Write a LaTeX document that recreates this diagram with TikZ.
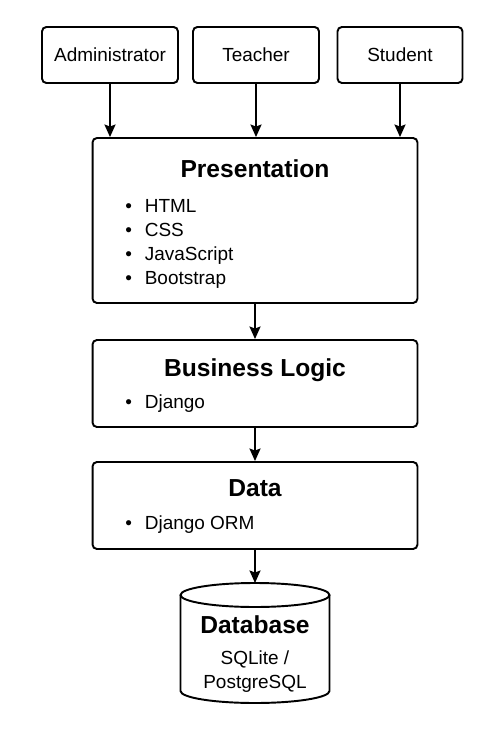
\documentclass[tikz,border=0pt]{standalone}
\usepackage{fontspec}
\setmainfont{Liberation Sans}
\usepackage{tikz}
\usetikzlibrary{arrows.meta}

\begin{document}
\begin{tikzpicture}[x=0.02cm,y=0.02cm,
		box/.style={draw,line width=1.1pt,rounded corners=2.5pt,inner sep=0pt},
		usr/.style={box,minimum height=1.12cm,font=\fontsize{10.8}{13}\selectfont},
		layer/.style={box,minimum width=6.5cm},
		ttl/.style={font=\fontsize{14}{17}\selectfont\bfseries,inner sep=0pt,anchor=base},
		sub/.style={font=\fontsize{10.8}{13}\selectfont,inner sep=0pt,anchor=base},
		itm/.style={font=\fontsize{10.8}{13}\selectfont,inner sep=0pt,anchor=base west,execute at begin node={\makebox[0.39cm][l]{\textbullet}}},
		arr/.style={line width=1.1pt,-{Stealth[length=0.25cm,width=0.22cm,inset=0.04cm]}}]
		\fill[white] (0,0) rectangle (500,-750);
		\useasboundingbox (0,0) rectangle (500,-750);
		% users
		\node[usr,minimum width=2.72cm] (admin) at (110,-55) {Administrator};
		\node[usr,minimum width=2.52cm] (teacher) at (256,-55) {Teacher};
		\node[usr,minimum width=2.5cm] (student) at (400,-55) {Student};
		% layers
		\node[layer,minimum height=3.3cm] (pres) at (255,-220.5) {};
		\node[layer,minimum height=1.74cm] (logic) at (255,-383.5) {};
		\node[layer,minimum height=1.74cm] (data) at (255,-505.5) {};
		\node[ttl] (presttl) at (255,-177) {Presentation};
		\foreach \t [count=\i] in {HTML,CSS,JavaScript,Bootstrap}
			\node[itm] (pres\i) at (125,{-188-24*\i}) {\t};
		\node[ttl] (logicttl) at (255,-376) {Business Logic};
		\node[itm] (logic1) at (125,-408) {Django};
		\node[ttl] (datattl) at (255,-496) {Data};
		\node[itm] (data1) at (125,-529) {Django ORM};
		% database
		\coordinate (dbtop) at (255,-583);
		\draw[line width=1.1pt] (180.5,-595) -- (180.5,-691) arc[start angle=180,end angle=360,x radius=74.5,y radius=12] -- (329.5,-595);
		\draw[line width=1.1pt] (255,-595) ellipse[x radius=74.5,y radius=12];
		\node[ttl] (dbttl) at (255,-633) {Database};
		\node[sub] (dbsub1) at (255,-664) {SQLite /};
		\node[sub] (dbsub2) at (255,-688) {PostgreSQL};
		% arrows
		\draw[arr] (admin) -- (admin |- pres.north);
		\draw[arr] (teacher) -- (teacher |- pres.north);
		\draw[arr] (student) -- (student |- pres.north);
		\draw[arr] (pres) -- (logic);
		\draw[arr] (logic) -- (data);
		\draw[arr] (data) -- (dbtop);
	\end{tikzpicture}
\end{document}
